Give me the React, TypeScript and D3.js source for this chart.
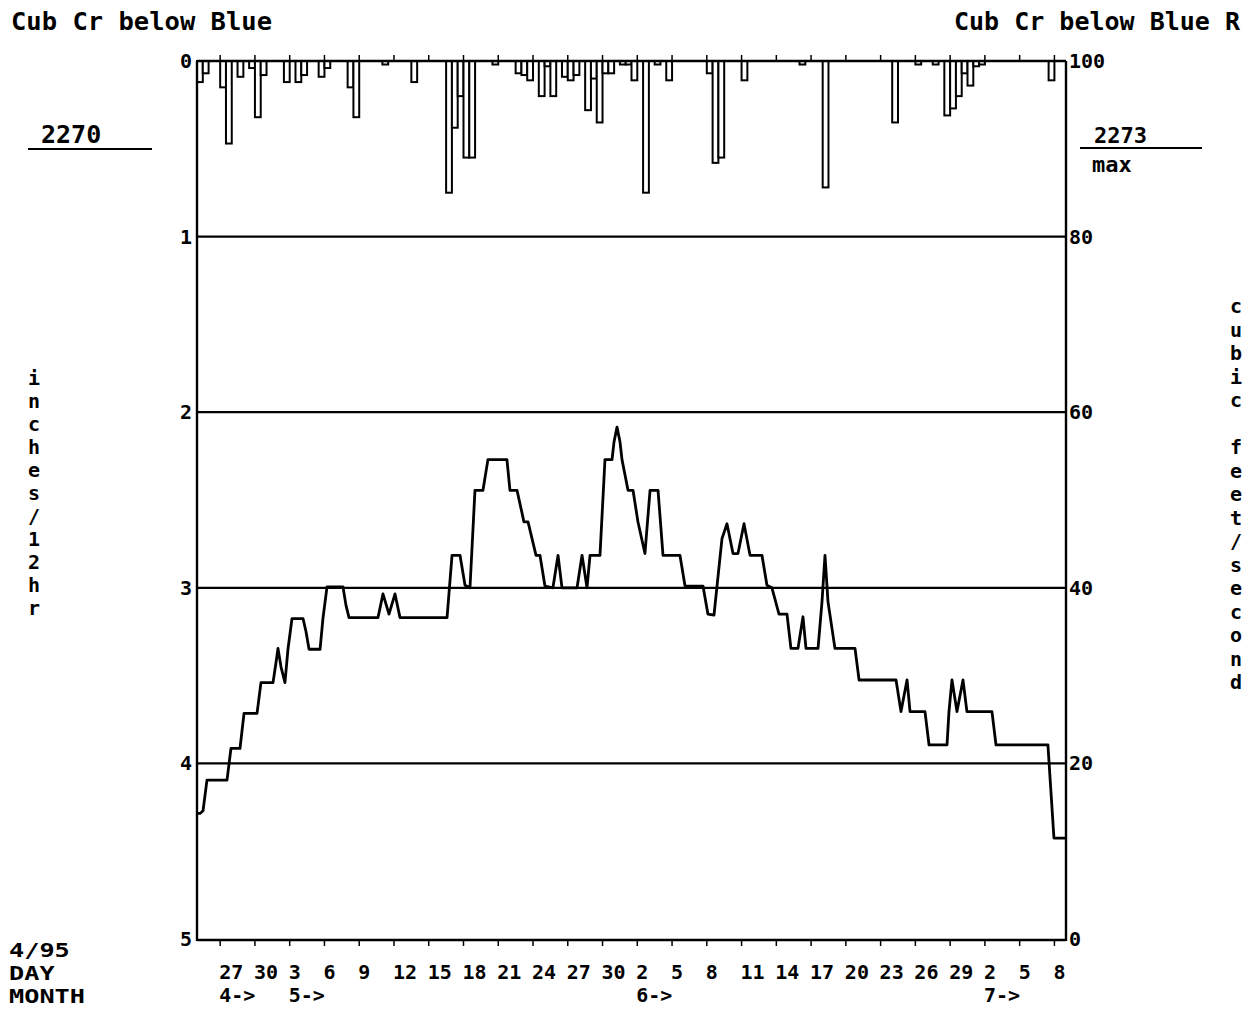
import React, { useRef, useEffect } from "react";
import * as d3 from "d3";

// station titles and header numbers
const stationName = "Cub Cr below Blue";
const stationNameRight = "Cub Cr below Blue R";
const leftHeader = "2270";
const rightHeader = "2273";
const rightHeaderSub = "max";

// axes
const rainTicks = [0, 1, 2, 3, 4, 5];
const flowTicks = [100, 80, 60, 40, 20, 0];
const leftLabel = "inches/12hr";
const rightLabel = "cubic feet/second";
const cornerLabels = ["4/95", "DAY", "MONTH"];

// 12 hour rainfall: index of half day from Apr 25 1995, inches
const rainHalfDay = [
  0, 1, 4, 5, 7, 9, 10, 11, 15, 17, 18, 21, 22, 26, 27, 32, 37, 43, 44, 45, 46,
  47, 51, 55, 56, 57, 59, 60, 61, 63, 64, 65, 67, 68, 69, 70, 71, 73, 74, 75,
  77, 79, 81, 88, 89, 90, 94, 104, 108, 120, 124, 127, 129, 130, 131, 132, 133,
  134, 135, 147,
];
const rainInches = [
  0.12, 0.07, 0.15, 0.47, 0.09, 0.04, 0.32, 0.08, 0.12, 0.12, 0.08, 0.09, 0.04,
  0.15, 0.32, 0.02, 0.12, 0.75, 0.38, 0.2, 0.55, 0.55, 0.02, 0.07, 0.08, 0.11,
  0.2, 0.03, 0.2, 0.09, 0.11, 0.08, 0.28, 0.1, 0.35, 0.07, 0.07, 0.02, 0.02,
  0.11, 0.75, 0.02, 0.11, 0.07, 0.58, 0.55, 0.11, 0.02, 0.72, 0.35, 0.02, 0.02,
  0.31, 0.27, 0.2, 0.07, 0.14, 0.03, 0.02, 0.11,
];

// streamflow: days since Apr 25 1995, cfs
const flowDay = [
  0, 0.26, 0.52, 0.86, 2.59, 2.93, 3.71, 4.06, 5.18, 5.52, 6.56, 6.82, 6.99,
  7.25, 7.59, 7.85, 8.2, 9.15, 9.41, 9.67, 10.62, 10.87, 11.22, 12.6, 12.86,
  13.12, 15.62, 16.05, 16.57, 17.09, 17.52, 21.58, 22.01, 22.7, 23.13, 23.56,
  23.99, 24.68, 25.11, 26.75, 27.01, 27.62, 28.22, 28.57, 29.26, 29.6, 30.03,
  30.72, 31.16, 31.5, 32.8, 33.23, 33.66, 33.92, 34.78, 35.21, 35.82, 35.99,
  36.25, 36.51, 36.68, 37.2, 37.63, 38.06, 38.66, 39.1, 39.79, 40.22, 41.68,
  42.12, 43.67, 44.1, 44.62, 44.88, 45.31, 45.74, 46.26, 46.69, 47.21, 47.73,
  48.76, 49.19, 49.62, 50.23, 50.92, 51.26, 51.87, 52.3, 52.56, 53.6, 53.94,
  54.2, 54.46, 55.06, 56.79, 57.14, 60.33, 60.76, 61.28, 61.54, 62.83, 63.18,
  64.73, 64.9, 65.16, 65.59, 66.11, 66.45, 68.61, 68.96, 73.44, 73.7, 73.96, 75,
];
const flowCfs = [
  14.3, 14.3, 14.6, 18.1, 18.1, 21.7, 21.7, 25.7, 25.7, 29.2, 29.2, 31.5, 33.1,
  31.0, 29.2, 33.0, 36.5, 36.5, 35.0, 33.0, 33.0, 36.5, 40.1, 40.1, 38.0, 36.6,
  36.6, 39.3, 37.0, 39.3, 36.6, 36.6, 43.7, 43.7, 40.3, 40.0, 51.1, 51.1, 54.6,
  54.6, 51.1, 51.1, 47.5, 47.5, 43.7, 43.7, 40.2, 40.0, 43.7, 40.0, 40.0, 43.7,
  40.0, 43.7, 43.7, 54.6, 54.6, 56.6, 58.3, 56.6, 54.6, 51.1, 51.1, 47.5, 43.9,
  51.1, 51.1, 43.7, 43.7, 40.2, 40.2, 37.0, 36.9, 40.2, 45.6, 47.3, 43.9, 43.9,
  47.3, 43.7, 43.7, 40.3, 40.0, 37.0, 37.0, 33.1, 33.1, 36.7, 33.1, 33.1, 38.4,
  43.7, 38.4, 33.1, 33.1, 29.5, 29.5, 25.9, 29.5, 25.9, 25.9, 22.1, 22.1, 25.9,
  29.5, 25.9, 29.5, 25.9, 25.9, 22.1, 22.1, 16.8, 11.5, 11.5,
];

const startDate = new Date(Date.UTC(1995, 3, 25));
const endDate = new Date(Date.UTC(1995, 6, 9));
const firstTick = new Date(Date.UTC(1995, 3, 27));

function HydroChart() {
  const svgRef = useRef(null);
  const width = 1252;
  const height = 1010;

  useEffect(() => {
    const svg = d3.select(svgRef.current);
    svg.selectAll("*").remove();

    const font = "'DejaVu Sans Mono', 'Liberation Mono', monospace";
    const left = 197;
    const right = 1066;

    const x = d3.scaleUtc().domain([startDate, endDate]).range([left, right]);
    const yRain = d3.scaleLinear().domain([0, 5]).range([61, 939]);
    const yFlow = d3.scaleLinear().domain([0, 100]).range([939, 61]);

    const g = svg
      .append("g")
      .style("font-family", font)
      .style("font-weight", "bold")
      .attr("fill", "#000");

    // rainfall bars hanging from the top
    const halfDay = 12 * 3600 * 1000;
    const at = (h) => x(new Date(startDate.getTime() + h * halfDay));
    g.append("g")
      .selectAll("rect")
      .data(rainHalfDay.map((h, i) => ({ h, v: rainInches[i] })))
      .join("rect")
      .attr("x", (d) => at(d.h))
      .attr("y", yRain(0))
      .attr("width", (d) => at(d.h + 1) - at(d.h))
      .attr("height", (d) => yRain(d.v) - yRain(0))
      .attr("fill", "white")
      .attr("stroke", "#000")
      .attr("stroke-width", 2);

    // horizontal grid lines
    g.append("g")
      .selectAll("line")
      .data([1, 2, 3, 4])
      .join("line")
      .attr("x1", left)
      .attr("x2", right)
      .attr("y1", (d) => yRain(d))
      .attr("y2", (d) => yRain(d))
      .attr("stroke", "#000")
      .attr("stroke-width", 2.2);

    // frame
    const frame = g.append("g").attr("stroke", "#000").attr("stroke-width", 2.4);
    frame.append("line").attr("x1", left).attr("x2", right).attr("y1", yRain(0)).attr("y2", yRain(0));
    frame.append("line").attr("x1", left).attr("x2", right).attr("y1", yRain(5) + 1).attr("y2", yRain(5) + 1);
    frame.append("line").attr("x1", left).attr("x2", left).attr("y1", yRain(0)).attr("y2", yRain(5) + 2);
    frame.append("line").attr("x1", right).attr("x2", right).attr("y1", yRain(0)).attr("y2", yRain(5) + 2);

    // ticks every 3 days
    const ticks = d3.utcDay.range(firstTick, endDate, 3);
    g.append("g")
      .selectAll("line")
      .data(ticks)
      .join("line")
      .attr("x1", (d) => x(d))
      .attr("x2", (d) => x(d))
      .attr("y1", yRain(0))
      .attr("y2", yRain(0) - 6)
      .attr("stroke", "#000")
      .attr("stroke-width", 1.5);
    g.append("g")
      .selectAll("line")
      .data(ticks)
      .join("line")
      .attr("x1", (d) => x(d))
      .attr("x2", (d) => x(d))
      .attr("y1", yRain(5) + 1)
      .attr("y2", yRain(5) + 7)
      .attr("stroke", "#000")
      .attr("stroke-width", 1.5);

    // day labels, left aligned at the tick
    g.append("g")
      .selectAll("text")
      .data(ticks)
      .join("text")
      .attr("x", (d) => x(d) - 1)
      .attr("y", 979)
      .style("font-size", "20px")
      .text((d) => d.getUTCDate());

    // month labels at the first tick of each month
    const monthTicks = ticks.filter(
      (d, i) => i === 0 || d.getUTCMonth() !== ticks[i - 1].getUTCMonth()
    );
    g.append("g")
      .selectAll("text")
      .data(monthTicks)
      .join("text")
      .attr("x", (d) => x(d) - 1)
      .attr("y", 1002)
      .style("font-size", "20px")
      .text((d) => d.getUTCMonth() + 1 + "->");

    // flow line
    const line = d3
      .line()
      .x((d) => at(d[0] * 2))
      .y((d) => yFlow(d[1]));
    g.append("path")
      .datum(flowDay.map((d, i) => [d, flowCfs[i]]))
      .attr("d", line)
      .attr("fill", "none")
      .attr("stroke", "#000")
      .attr("stroke-width", 2.8)
      .attr("stroke-linejoin", "round");

    // left axis labels (inches)
    g.append("g")
      .selectAll("text")
      .data(rainTicks)
      .join("text")
      .attr("x", 192)
      .attr("y", (d) => yRain(d) + 7)
      .attr("text-anchor", "end")
      .style("font-size", "20px")
      .text((d) => d);

    // right axis labels (cfs)
    g.append("g")
      .selectAll("text")
      .data(flowTicks)
      .join("text")
      .attr("x", 1069)
      .attr("y", (d) => yFlow(d) + 7)
      .style("font-size", "20px")
      .text((d) => d);

    // titles
    g.append("text").attr("x", 11).attr("y", 30).style("font-size", "25.5px").text(stationName);
    g.append("text").attr("x", 954).attr("y", 30).style("font-size", "25px").text(stationNameRight);

    // header numbers with rules
    g.append("text").attr("x", 41).attr("y", 143).style("font-size", "25px").text(leftHeader);
    g.append("line").attr("x1", 28).attr("x2", 152).attr("y1", 149).attr("y2", 149).attr("stroke", "#000").attr("stroke-width", 2);
    g.append("text").attr("x", 1094).attr("y", 143).style("font-size", "22px").text(rightHeader);
    g.append("line").attr("x1", 1080).attr("x2", 1202).attr("y1", 148).attr("y2", 148).attr("stroke", "#000").attr("stroke-width", 2);
    g.append("text").attr("x", 1092).attr("y", 172).style("font-size", "22px").text(rightHeaderSub);

    // stacked vertical axis titles
    const stack = (label, cx, y0, step) => {
      g.append("g")
        .selectAll("text")
        .data(label.split(""))
        .join("text")
        .attr("x", cx)
        .attr("y", (d, i) => y0 + i * step)
        .attr("text-anchor", "middle")
        .style("font-size", "20px")
        .text((d) => d);
    };
    stack(leftLabel, 34, 385, 23);
    stack(rightLabel, 1236, 313, 23.5);

    // corner labels, tight rows like the plotter output
    g.append("g")
      .selectAll("text")
      .data(cornerLabels)
      .join("text")
      .attr("x", 9)
      .attr("y", (d, i) => 957 + i * 23)
      .attr("textLength", (d) => d.length * 15.2)
      .attr("lengthAdjust", "spacingAndGlyphs")
      .style("font-size", "19.5px")
      .text((d) => d);
  }, []);

  return (
    <svg
      ref={svgRef}
      width={width}
      height={height}
      style={{ position: "absolute", left: 0, top: 0, background: "white" }}
    ></svg>
  );
}

export default function App() {
  return <HydroChart />;
}
